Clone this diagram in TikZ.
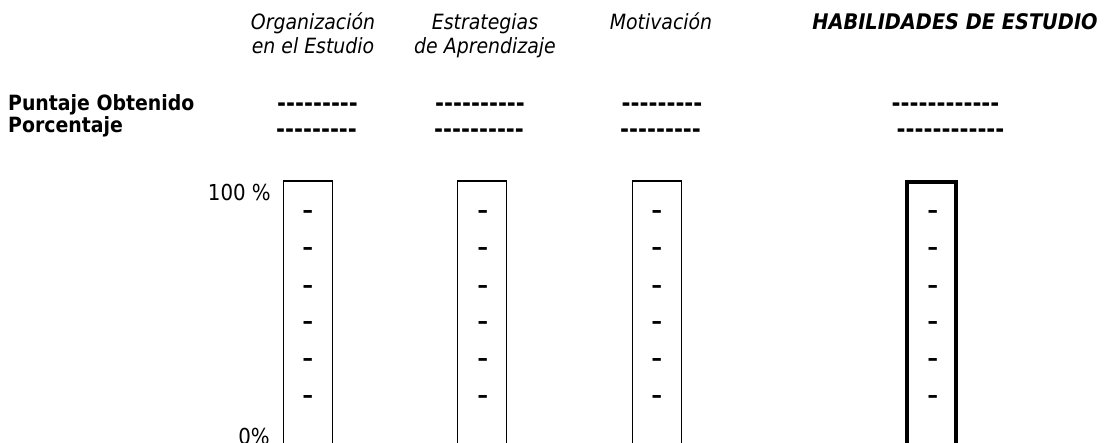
\documentclass[tikz,border=0pt]{standalone}
\usepackage{fontspec}
\setmainfont{DejaVu Sans Condensed}
\begin{document}
\begin{tikzpicture}[x=1pt,y=-1pt,
  lbl/.style={inner sep=0pt,anchor=base,font=\fontsize{21}{24}\selectfont\itshape,align=center},
  rowlbl/.style={inner sep=0pt,anchor=base west,font=\fontsize{21}{22}\selectfont\bfseries},
  dashes/.style={inner sep=0pt,anchor=base,font=\fontsize{24}{22}\selectfont\bfseries},
  pct/.style={inner sep=0pt,anchor=base east,font=\fontsize{22}{22}\selectfont},
  bar/.style={draw,line width=1.8pt,minimum width=49pt,minimum height=300pt,inner sep=0pt,anchor=north},
  thickbar/.style={bar,line width=4pt},
  tick/.style={inner sep=0pt,anchor=base,font=\fontsize{35}{35}\selectfont}]
\useasboundingbox (0,0) rectangle (1105,443);
\clip (0,0) rectangle (1105,443);
% column titles
\node[lbl] (t1) at (313,54) {Organización\\en el Estudio};
\node[lbl] (t2) at (485,54) {Estrategias\\de Aprendizaje};
\node[lbl] (t3) at (661,30) {Motivación};
\node[lbl,font=\fontsize{21.5}{24}\selectfont\bfseries\itshape] (t4) at (955,30) {HABILIDADES DE ESTUDIO};
% row labels
\node[rowlbl] (r1) at (8,110.5) {Puntaje Obtenido};
\node[rowlbl] (r2) at (8,132.5) {Porcentaje};
% dashes
\node[dashes] (d11) at (317.5,112) {-{}-{}-{}-{}-{}-{}-{}-{}-};
\node[dashes] (d12) at (480,112) {-{}-{}-{}-{}-{}-{}-{}-{}-{}-};
\node[dashes] (d13) at (662,112) {-{}-{}-{}-{}-{}-{}-{}-{}-};
\node[dashes] (d14) at (945.5,112) {-{}-{}-{}-{}-{}-{}-{}-{}-{}-{}-{}-};
\node[dashes] (d21) at (316.5,138) {-{}-{}-{}-{}-{}-{}-{}-{}-};
\node[dashes] (d22) at (479,138) {-{}-{}-{}-{}-{}-{}-{}-{}-{}-};
\node[dashes] (d23) at (660.5,138) {-{}-{}-{}-{}-{}-{}-{}-{}-};
\node[dashes] (d24) at (950.5,138) {-{}-{}-{}-{}-{}-{}-{}-{}-{}-{}-{}-};
% bars
\node[bar] (b1) at (308,180) {};
\node[bar] (b2) at (482,180) {};
\node[bar] (b3) at (657,180) {};
\node[thickbar] (b4) at (931.5,180) {};
% ticks
\foreach \c/\x in {1/308,2/483,3/657,4/933}{
  \foreach \i/\y in {1/221.6,2/258.6,3/296.6,4/332.6,5/369.6,6/406.6}{
    \node[tick] (k\c\i) at (\x,\y) {-};
  }
}
% percentages
\node[pct] (p100) at (271,201) {100 \%};
\node[pct] (p0) at (270,444) {0\%};
\end{tikzpicture}
\end{document}
